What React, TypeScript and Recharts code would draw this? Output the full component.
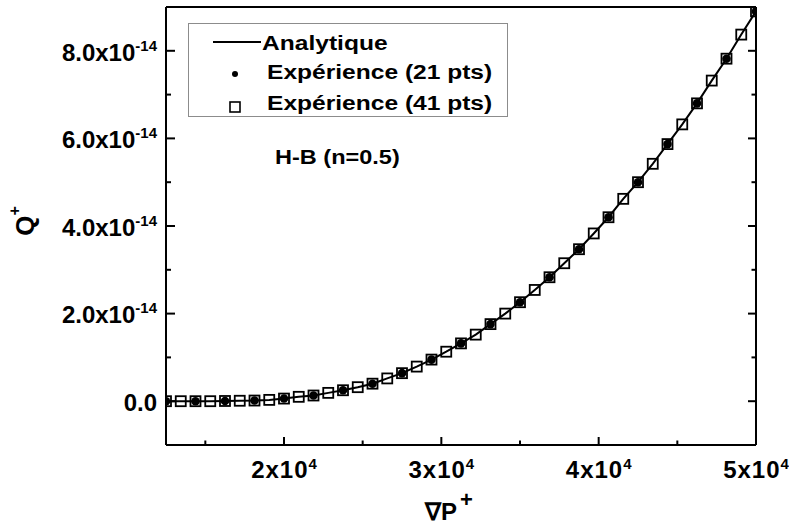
import React from 'react';
import { ComposedChart, Line, Scatter, XAxis, YAxis, Legend } from 'recharts';

// ∇P+ values of the 41-point experiment
const gradP41 = [12500, 13437.5, 14375, 15312.5, 16250, 17187.5, 18125, 19062.5, 20000, 20937.5,
  21875, 22812.5, 23750, 24687.5, 25625, 26562.5, 27500, 28437.5, 29375, 30312.5,
  31250, 32187.5, 33125, 34062.5, 35000, 35937.5, 36875, 37812.5, 38750, 39687.5,
  40625, 41562.5, 42500, 43437.5, 44375, 45312.5, 46250, 47187.5, 48125, 49062.5, 50000];
const q41 = [0, 0, 0, 0, 0.005e-14, 0.01e-14, 0.015e-14, 0.03e-14, 0.06e-14, 0.10e-14,
  0.13e-14, 0.19e-14, 0.25e-14, 0.32e-14, 0.40e-14, 0.52e-14, 0.64e-14, 0.79e-14, 0.95e-14, 1.13e-14,
  1.32e-14, 1.52e-14, 1.76e-14, 2.00e-14, 2.26e-14, 2.54e-14, 2.83e-14, 3.15e-14, 3.47e-14, 3.83e-14,
  4.20e-14, 4.62e-14, 5.00e-14, 5.42e-14, 5.87e-14, 6.32e-14, 6.80e-14, 7.32e-14, 7.82e-14, 8.37e-14, 8.90e-14];

// 21-point experiment
const gradP21 = [12500, 14375, 16250, 18125, 20000, 21875, 23750, 25625, 27500, 29375,
  31250, 33125, 35000, 36875, 38750, 40625, 42500, 44375, 46250, 48125, 50000];
const q21 = [0, 0, 0.005e-14, 0.015e-14, 0.06e-14, 0.13e-14, 0.25e-14, 0.40e-14, 0.64e-14, 0.95e-14,
  1.32e-14, 1.76e-14, 2.26e-14, 2.83e-14, 3.47e-14, 4.20e-14, 5.00e-14, 5.87e-14, 6.80e-14, 7.82e-14, 8.90e-14];

// Analytic curve (same abscissae)
const analyticX = gradP41;
const analyticQ = q41;

const seriesNames = ['Analytique', 'Expérience (21 pts)', 'Expérience (41 pts)'];
const annotation = 'H-B (n=0.5)';

const xDomain = [12500, 50000];
const yDomain = [-1e-14, 9e-14];
const xMajorTicks = [20000, 30000, 40000, 50000];
const xAllTicks = [15000, 20000, 25000, 30000, 35000, 40000, 45000, 50000];
const xTickMantissa = ['2x10', '3x10', '4x10', '5x10'];
const xTickExp = ['4', '4', '4', '4'];
const yMajorTicks = [0, 2e-14, 4e-14, 6e-14, 8e-14];
const yAllTicks = [0, 1e-14, 2e-14, 3e-14, 4e-14, 5e-14, 6e-14, 7e-14, 8e-14];
const yTickMantissa = ['0.0', '2.0x10', '4.0x10', '6.0x10', '8.0x10'];
const yTickExp = ['', '-14', '-14', '-14', '-14'];

const analyticData = analyticX.map((x, i) => ({ x, q: analyticQ[i] }));
const data21 = gradP21.map((x, i) => ({ x, q: q21[i] }));
const data41 = gradP41.map((x, i) => ({ x, q: q41[i] }));

const FONT = '"Liberation Sans", Arial, Helvetica, sans-serif';
const BLACK = '#000';
const MAJ = 8;
const MIN = 4.5;

const xIdx = (v: number) => xMajorTicks.indexOf(v);
const yIdx = (v: number) => yMajorTicks.findIndex((t) => Math.abs(t - v) < 1e-20);

// bottom axis: inward tick + label
const BottomTick = (props: any) => {
  const { x, y, payload } = props;
  const idx = xIdx(payload.value);
  const len = idx >= 0 ? MAJ : MIN;
  return (
    <g>
      <line x1={x} x2={x} y1={y} y2={y - len} stroke={BLACK} strokeWidth={2} />
      {idx >= 0 ? (
        <text x={x} y={y + 33} textAnchor="middle" fontFamily={FONT} fontWeight="bold" fontSize={24} fill={BLACK} letterSpacing={1}>
          {xTickMantissa[idx]}
          <tspan dy={-9} fontSize={15} letterSpacing={0}>{xTickExp[idx]}</tspan>
        </text>
      ) : null}
    </g>
  );
};

// left axis: inward tick + label
const LeftTick = (props: any) => {
  const { x, y, payload } = props;
  const idx = yIdx(payload.value);
  const len = idx >= 0 ? MAJ + 1 : MIN + 0.5;
  return (
    <g>
      <line x1={x} x2={x + len} y1={y} y2={y} stroke={BLACK} strokeWidth={2} />
      {idx >= 0 ? (
        <text x={x - 9} y={y + 9.7} textAnchor="end" fontFamily={FONT} fontWeight="bold" fontSize={24} fill={BLACK}>
          {yTickMantissa[idx]}
          {yTickExp[idx] ? <tspan dy={-10} fontSize={15}>{yTickExp[idx]}</tspan> : null}
        </text>
      ) : null}
    </g>
  );
};

const TopTick = (props: any) => {
  const { x, y, payload } = props;
  const len = xIdx(payload.value) >= 0 ? MAJ + 1 : MIN;
  return <line x1={x} x2={x} y1={y} y2={y + len} stroke={BLACK} strokeWidth={2} />;
};

const RightTick = (props: any) => {
  const { x, y, payload } = props;
  const len = yIdx(payload.value) >= 0 ? MAJ : MIN;
  return <line x1={x} x2={x - len} y1={y} y2={y} stroke={BLACK} strokeWidth={2} />;
};

const XTitle = (props: any) => {
  const vb = props.viewBox || { x: 166, y: 445, width: 590, height: 81 };
  const x0 = vb.x + vb.width / 2 - 36;
  const y0 = vb.y + 75;
  return (
    <text x={x0} y={y0} fontFamily={FONT} fontWeight="bold" fontSize={24} fill={BLACK}>
      ∇P
      <tspan dx={3} dy={-13} fontSize={22}>+</tspan>
    </text>
  );
};

const YTitle = (props: any) => {
  const vb = props.viewBox || { x: 0, y: 7, width: 166, height: 438 };
  const cx = vb.x + 34;
  const cy = vb.y + vb.height / 2 - 5;
  return (
    <text x={cx} y={cy} transform={`rotate(-90, ${cx}, ${cy})`} textAnchor="middle" fontFamily={FONT} fontWeight="bold" fontSize={26} fill={BLACK}>
      Q
      <tspan dy={-14} fontSize={16}>+</tspan>
    </text>
  );
};

const SquareShape = (props: any) => {
  const { cx, cy } = props;
  if (cx == null || cy == null) return null;
  return <rect x={cx - 5} y={cy - 5} width={10} height={10} fill="none" stroke={BLACK} strokeWidth={1.8} />;
};

const DotShape = (props: any) => {
  const { cx, cy } = props;
  if (cx == null || cy == null) return null;
  return <circle cx={cx} cy={cy} r={4.3} fill={BLACK} />;
};

const LegendBox = () => (
  <svg width={320} height={94} style={{ overflow: 'visible', display: 'block' }}>
    <rect x={0.5} y={0.5} width={319} height={93} fill="#fff" stroke="#8c8c8c" strokeWidth={1} />
    <line x1={25} x2={73} y1={19} y2={19} stroke={BLACK} strokeWidth={2} />
    <text transform="translate(74,26.5) scale(1.17,1)" fontFamily={FONT} fontWeight="bold" fontSize={21} fill={BLACK}>{seriesNames[0]}</text>
    <circle cx={47} cy={51} r={3} fill={BLACK} />
    <text transform="translate(79,56) scale(1.17,1)" fontFamily={FONT} fontWeight="bold" fontSize={21} fill={BLACK}>{seriesNames[1]}</text>
    <rect x={42} y={79} width={10} height={10} fill="none" stroke={BLACK} strokeWidth={1.6} />
    <text transform="translate(79,87) scale(1.17,1)" fontFamily={FONT} fontWeight="bold" fontSize={21} fill={BLACK}>{seriesNames[2]}</text>
    <text transform="translate(87,141) scale(1.12,1)" fontFamily={FONT} fontWeight="bold" fontSize={21} fill={BLACK}>{annotation}</text>
  </svg>
);

const lineStyle = { stroke: BLACK, strokeWidth: 2 };

export default function App() {
  return (
    <div style={{ position: 'absolute', left: 0, top: 0, width: 789, height: 526, background: '#fff' }}>
      <ComposedChart width={789} height={526} margin={{ top: 7, right: 33, bottom: 0, left: 0 }}>
        <XAxis xAxisId="x" type="number" dataKey="x" domain={xDomain} allowDataOverflow ticks={xAllTicks} interval={0}
          tickLine={false} tickSize={0} tickMargin={0} axisLine={lineStyle} tick={<BottomTick />} height={81}
          label={(p: any) => <XTitle {...p} />} />
        <YAxis yAxisId="y" type="number" dataKey="q" domain={yDomain} allowDataOverflow ticks={yAllTicks} interval={0}
          tickLine={false} tickSize={0} tickMargin={0} axisLine={lineStyle} tick={<LeftTick />} width={166}
          label={(p: any) => <YTitle {...p} />} />
        <XAxis xAxisId="top" type="number" orientation="top" mirror domain={xDomain} allowDataOverflow ticks={xAllTicks} interval={0}
          tickLine={false} tickSize={0} tickMargin={0} axisLine={lineStyle} tick={<TopTick />} height={10} />
        <YAxis yAxisId="right" type="number" orientation="right" mirror domain={yDomain} allowDataOverflow ticks={yAllTicks} interval={0}
          tickLine={false} tickSize={0} tickMargin={0} axisLine={lineStyle} tick={<RightTick />} width={10} />

        <Line xAxisId="x" yAxisId="y" data={analyticData} dataKey="q" type="linear" stroke={BLACK} strokeWidth={2}
          dot={false} activeDot={false} isAnimationActive={false} name={seriesNames[0]} />
        <Scatter xAxisId="x" yAxisId="y" data={data21} dataKey="q" shape={<DotShape />} isAnimationActive={false} name={seriesNames[1]} />
        <Scatter xAxisId="x" yAxisId="y" data={data41} dataKey="q" shape={<SquareShape />} isAnimationActive={false} name={seriesNames[2]} />

        <Legend layout="vertical" align="center" verticalAlign="middle" content={() => <LegendBox />}
          wrapperStyle={{ left: 188, top: 23, width: 320, height: 94 }} />
      </ComposedChart>
    </div>
  );
}
